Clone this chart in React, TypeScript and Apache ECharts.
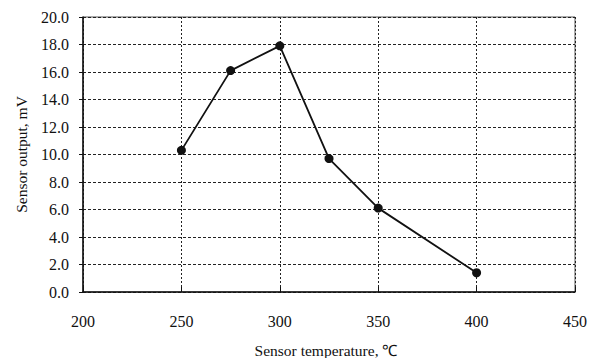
import React, { useEffect, useRef } from "react";
import * as echarts from "echarts";

const temperatures = [250, 275, 300, 325, 350, 400];
const outputs = [10.3, 16.1, 17.9, 9.7, 6.1, 1.4];
const xTicks = [200, 250, 300, 350, 400, 450];
const yTicks = [0, 2, 4, 6, 8, 10, 12, 14, 16, 18, 20];
const xName = "Sensor temperature, \u2103";
const yName = "Sensor output, mV";

const FONT = "Liberation Serif";

export default function App() {
  const ref = useRef<HTMLDivElement>(null);
  useEffect(() => {
    if (!ref.current) return;
    const chart = echarts.init(ref.current, undefined, { renderer: "svg" });
    chart.setOption({
      animation: false,
      backgroundColor: "#ffffff",
      grid: {
        left: 83,
        top: 17,
        width: 492,
        height: 275,
        containLabel: false,
        outerBoundsMode: "none",
        show: true,
        borderColor: "#555",
        borderWidth: 1,
        backgroundColor: "transparent",
      },
      xAxis: {
        type: "value",
        min: xTicks[0],
        max: xTicks[xTicks.length - 1],
        interval: 50,
        name: xName,
        nameLocation: "middle",
        nameGap: 50,
        nameTextStyle: { fontFamily: FONT, fontSize: 15.5, color: "#111", padding: [0, 6, 0, 0] },
        axisLine: { show: true, lineStyle: { color: "#111", width: 1.5 } },
        axisTick: { show: true, inside: true, length: 5, lineStyle: { color: "#111" } },
        axisLabel: { show: true, fontFamily: FONT, fontSize: 16, color: "#111", margin: 21 },
        splitLine: { show: true, lineStyle: { color: "#222", type: [2, 2], width: 1 } },
      },
      yAxis: {
        type: "value",
        min: yTicks[0],
        max: yTicks[yTicks.length - 1],
        interval: 2,
        name: yName,
        nameLocation: "middle",
        nameGap: 54,
        nameTextStyle: { fontFamily: FONT, fontSize: 15.5, color: "#111" },
        axisLine: { show: true, lineStyle: { color: "#111", width: 1.5 } },
        axisTick: { show: true, inside: false, length: 4, lineStyle: { color: "#111" } },
        axisLabel: {
          show: true,
          fontFamily: FONT,
          fontSize: 16,
          color: "#111",
          margin: 14,
          formatter: (v: number) => v.toFixed(1),
        },
        splitLine: { show: true, lineStyle: { color: "#222", type: [3, 2], width: 1 } },
      },
      series: [
        {
          type: "line",
          data: temperatures.map((t, i) => [t, outputs[i]]),
          symbol: "circle",
          symbolSize: 9,
          itemStyle: { color: "#111" },
          lineStyle: { color: "#111", width: 1.8 },
        },
      ],
    });
    return () => chart.dispose();
  }, []);
  return (
    <div
      ref={ref}
      style={{ position: "fixed", left: 0, top: 0, width: 598, height: 358, background: "#fff" }}
    />
  );
}
